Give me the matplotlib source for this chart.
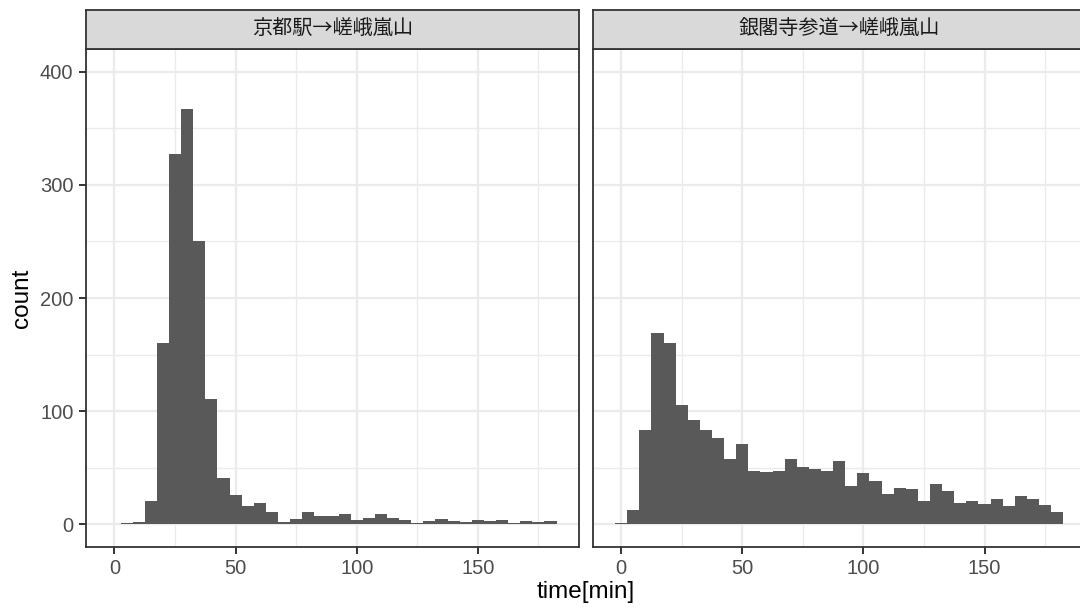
import numpy as np
import matplotlib
matplotlib.use("Agg")
import matplotlib.pyplot as plt

plt.rcParams['font.family'] = ['Liberation Sans', 'Noto Sans CJK JP', 'DejaVu Sans']

# -------------------------
# Data (histogram counts, binwidth 5 min)
# -------------------------
panel_titles = ["京都駅→嵯峨嵐山", "銀閣寺参道→嵯峨嵐山"]
bin_width = 5

kyoto_first_edge = 2.5
kyoto_counts = [1, 2, 21, 160, 327, 367, 250, 111, 41, 26,
                16, 19, 11, 2, 5, 11, 7, 7, 9, 4,
                6, 9, 6, 4, 1, 3, 5, 3, 2, 4,
                3, 4, 1, 3, 2, 3]

ginkaku_first_edge = -2.5
ginkaku_counts = [1, 13, 83, 169, 160, 105, 92, 83, 76, 58,
                  71, 47, 46, 47, 58, 51, 49, 47, 56, 34,
                  45, 38, 27, 32, 31, 21, 36, 29, 19, 21,
                  18, 22, 16, 25, 22, 17, 11]

x_ticks = [0, 50, 100, 150]
x_minor = [25, 75, 125, 175]
y_ticks = [0, 100, 200, 300, 400]
y_minor = [50, 150, 250, 350]

# -------------------------
# Style
# -------------------------
W, H = 1080, 610
bar_col = "#595959"
grid_col = "#EBEBEB"
border_col = "#333333"
tick_col = "#4D4D4D"
strip_fill = "#D9D9D9"

fig = plt.figure(figsize=(W / 100, H / 100), dpi=100)

panel_left = [86, 592.7]
panel_w = 493
panel_top, panel_bot = 49.3, 546.7
strip_top = 10

series = [(kyoto_first_edge, kyoto_counts), (ginkaku_first_edge, ginkaku_counts)]

for i, (first_edge, counts) in enumerate(series):
    ax = fig.add_axes([panel_left[i] / W, 1 - panel_bot / H,
                       panel_w / W, (panel_bot - panel_top) / H])
    edges = first_edge + bin_width * np.arange(len(counts) + 1)
    ax.bar(edges[:-1], counts, width=bin_width, align='edge',
           color=bar_col, linewidth=0, zorder=3)

    ax.set_xlim(-11.75, 191.75)
    ax.set_ylim(-19.8, 419.8)
    ax.set_xticks(x_ticks)
    ax.set_xticks(x_minor, minor=True)
    ax.set_yticks(y_ticks)
    ax.set_yticks(y_minor, minor=True)
    ax.grid(which='major', color=grid_col, linewidth=1.6, zorder=0)
    ax.grid(which='minor', color=grid_col, linewidth=1.0, zorder=0)
    ax.set_axisbelow(True)

    for s in ax.spines.values():
        s.set_color(border_col)
        s.set_linewidth(1.3)
        s.set_zorder(5)

    ax.tick_params(which='major', length=5, width=1.4, color=border_col,
                   labelsize=14.5, labelcolor=tick_col, pad=4)
    ax.tick_params(which='minor', length=0)
    if i == 1:
        ax.tick_params(axis='y', left=False, labelleft=False)

    # facet strip
    sax = fig.add_axes([panel_left[i] / W, 1 - panel_top / H,
                        panel_w / W, (panel_top - strip_top) / H])
    sax.set_facecolor(strip_fill)
    sax.set_xticks([])
    sax.set_yticks([])
    for s in sax.spines.values():
        s.set_color(border_col)
        s.set_linewidth(1.3)
    sax.text(0.5, 0.5, panel_titles[i], ha='center', va='center',
             fontsize=14.5, color="#1A1A1A",
             family=['Noto Sans CJK JP', 'DejaVu Sans'])

fig.text(22 / W, 1 - (panel_top + panel_bot) / 2 / H, "count",
         rotation=90, ha='center', va='center', fontsize=17.5)
fig.text((86 + 592.7 + panel_w) / 2 / W, 1 - 592 / H, "time[min]",
         ha='center', va='center', fontsize=17.5)

fig.savefig("out.png", dpi=100)
